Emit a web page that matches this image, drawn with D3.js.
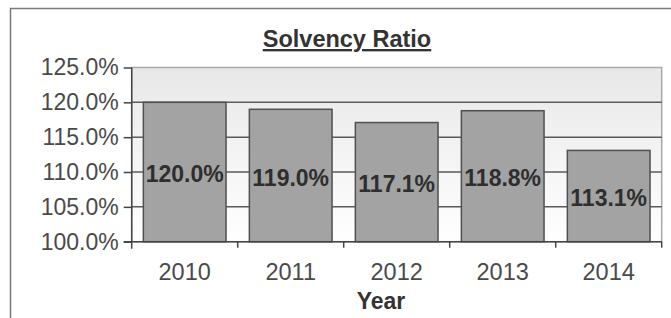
<!DOCTYPE html>
<html>
<head>
<meta charset="utf-8">
<script src="https://cdn.jsdelivr.net/npm/d3@7"></script>
<style>
  html, body { margin: 0; padding: 0; background: #fff; }
  svg { display: block; }
</style>
</head>
<body>
<div id="chart"></div>
<script>
var years = ["2010", "2011", "2012", "2013", "2014"];
var ratios = [120.0, 119.0, 117.1, 118.8, 113.1];
var yTicks = [100, 105, 110, 115, 120, 125];

var W = 671, H = 318;
// note: "top" is taken by window.top, so plot edges get their own names
var plotL = 131.7, plotR = 661.7, plotT = 67.5, plotB = 241.7;
var font = "'Liberation Sans', Arial, sans-serif";

var svg = d3.select("#chart").append("svg")
    .attr("width", W)
    .attr("height", H);

// outer frame of the chart
svg.append("rect")
    .attr("x", 10.5).attr("y", 8.5)
    .attr("width", 680).attr("height", 330)
    .attr("fill", "#fff")
    .attr("stroke", "#7a7a7a")
    .attr("stroke-width", 1.5);

var defs = svg.append("defs");
var grad = defs.append("linearGradient")
    .attr("id", "plotBg")
    .attr("x1", 0).attr("y1", 0).attr("x2", 0).attr("y2", 1);
grad.append("stop").attr("offset", "0%").attr("stop-color", "#e8e8e8");
grad.append("stop").attr("offset", "100%").attr("stop-color", "#ffffff");

var x = d3.scaleBand()
    .domain(years)
    .range([plotL, plotR])
    .paddingInner(0.22)
    .paddingOuter(0.11);

var y = d3.scaleLinear()
    .domain([100, 125])
    .range([plotB, plotT]);

// plot area
svg.append("rect")
    .attr("x", plotL).attr("y", plotT)
    .attr("width", plotR - plotL).attr("height", plotB - plotT)
    .attr("fill", "url(#plotBg)")
    .attr("stroke", "#a8a8a8")
    .attr("stroke-width", 1.5);

// gridlines
svg.selectAll("line.grid")
    .data(yTicks.slice(1, -1))
    .enter().append("line")
    .attr("class", "grid")
    .attr("x1", plotL).attr("x2", plotR)
    .attr("y1", function(d) { return y(d); })
    .attr("y2", function(d) { return y(d); })
    .attr("stroke", "#5a5a5a")
    .attr("stroke-width", 1.5);

// bars
svg.selectAll("rect.bar")
    .data(ratios)
    .enter().append("rect")
    .attr("class", "bar")
    .attr("x", function(d, i) { return x(years[i]); })
    .attr("width", x.bandwidth())
    .attr("y", function(d) { return y(d); })
    .attr("height", function(d) { return y(100) - y(d); })
    .attr("fill", "#a3a3a3")
    .attr("stroke", "#505050")
    .attr("stroke-width", 1.5);

// y axis
var yAxis = d3.axisLeft(y)
    .tickValues(yTicks)
    .tickSize(8)
    .tickPadding(5)
    .tickFormat(function(d) { return d.toFixed(1) + "%"; });

var gy = svg.append("g")
    .attr("transform", "translate(" + plotL + ",0)")
    .call(yAxis);
gy.select(".domain").remove();
gy.append("line")
    .attr("x1", 0).attr("x2", 0)
    .attr("y1", plotT).attr("y2", plotB + 7)
    .attr("stroke", "#444").attr("stroke-width", 1.5);
gy.selectAll(".tick line").attr("stroke", "#444").attr("stroke-width", 1.5);
gy.selectAll(".tick text")
    .attr("font-family", font)
    .attr("font-size", "23px")
    .attr("fill", "#4a4a4a");

// x axis: line plus ticks at the category boundaries
var step = x.step();
var bounds = years.map(function(d) { return x(d) - step * 0.11; });
bounds.push(plotR);

svg.append("line")
    .attr("x1", plotL - 8).attr("x2", plotR)
    .attr("y1", plotB).attr("y2", plotB)
    .attr("stroke", "#444").attr("stroke-width", 1.5);

svg.selectAll("line.xtick")
    .data(bounds.slice(1))
    .enter().append("line")
    .attr("class", "xtick")
    .attr("x1", function(d) { return d; })
    .attr("x2", function(d) { return d; })
    .attr("y1", plotB).attr("y2", plotB + 6)
    .attr("stroke", "#444").attr("stroke-width", 1.5);

svg.selectAll("text.xlab")
    .data(years)
    .enter().append("text")
    .attr("class", "xlab")
    .attr("x", function(d) { return x(d) + x.bandwidth() / 2; })
    .attr("y", 280)
    .attr("text-anchor", "middle")
    .attr("font-family", font)
    .attr("font-size", "23.5px")
    .attr("fill", "#4a4a4a")
    .text(function(d) { return d; });

// value labels, centred in each bar
svg.selectAll("text.val")
    .data(ratios)
    .enter().append("text")
    .attr("class", "val")
    .attr("x", function(d, i) { return x(years[i]) + x.bandwidth() / 2; })
    .attr("y", function(d) { return y((100 + d) / 2) + 10; })
    .attr("text-anchor", "middle")
    .attr("font-family", font)
    .attr("font-weight", "bold")
    .attr("font-size", "23px")
    .attr("fill", "#2e2e2e")
    .text(function(d) { return d.toFixed(1) + "%"; });

// title
svg.append("text")
    .attr("x", 347)
    .attr("y", 47)
    .attr("text-anchor", "middle")
    .attr("font-family", font)
    .attr("font-weight", "bold")
    .attr("font-size", "23.5px")
    .attr("text-decoration", "underline")
    .attr("fill", "#333")
    .text("Solvency Ratio");

// axis title
svg.append("text")
    .attr("x", 381)
    .attr("y", 309)
    .attr("text-anchor", "middle")
    .attr("font-family", font)
    .attr("font-weight", "bold")
    .attr("font-size", "23px")
    .attr("fill", "#333")
    .text("Year");
</script>
</body>
</html>
